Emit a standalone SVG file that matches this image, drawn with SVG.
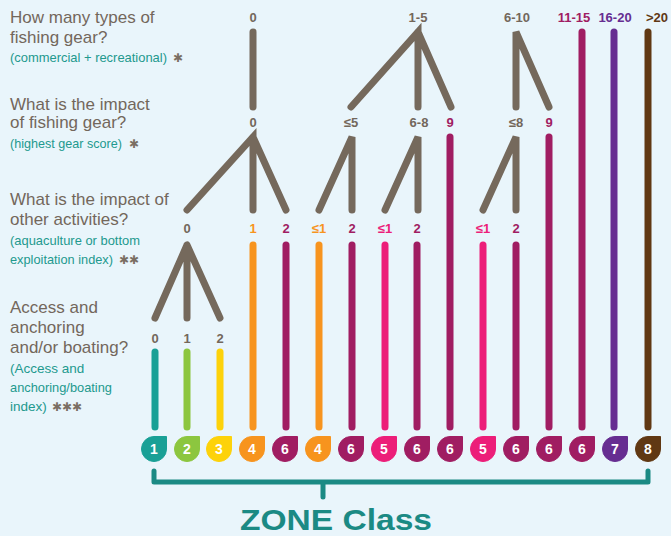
<svg xmlns="http://www.w3.org/2000/svg" width="671" height="536" viewBox="0 0 671 536">
<style>
.q{font-family:"Liberation Sans",Arial,sans-serif;font-size:17px;fill:#73675b}
.s{font-family:"Liberation Sans",Arial,sans-serif;font-size:13.5px;fill:#22998e}
.ast{font-family:"DejaVu Sans",sans-serif;font-size:12px;fill:#7a6e62;font-weight:bold}
.lb{font-family:"Liberation Sans",Arial,sans-serif;font-size:13px;font-weight:bold;text-anchor:middle;fill:#73675b}
.bn{font-family:"Liberation Sans",Arial,sans-serif;font-size:14px;font-weight:bold;text-anchor:middle;fill:#fff}
.t{stroke:#75695c;stroke-width:7;stroke-linecap:round;fill:none}
.b{stroke-width:7;stroke-linecap:round;fill:none}
.teal{stroke:#19a096;fill:#19a096}
.green{stroke:#8cc63f;fill:#8cc63f}
.yellow{stroke:#fdd20a;fill:#fdd20a}
.orange{stroke:#f7941e;fill:#f7941e}
.mag{stroke:#a01d62;fill:#a01d62}
.pink{stroke:#ec1e79;fill:#ec1e79}
.purple{stroke:#662d91;fill:#662d91}
.brown{stroke:#603813;fill:#603813}
.br{stroke:#1b8a84;stroke-width:5;stroke-linecap:round;stroke-linejoin:round;fill:none}
</style>
<defs>
<path id="drop" d="M-12.5,0 A12.5,12.5 0 0 1 0,-12.5 L12.5,-12.5 L12.5,0 A12.5,12.5 0 0 1 -12.5,0 Z"/>
</defs>
<rect width="671" height="536" fill="#e9f5fb"/>

<g id="questions">
<text class="q" x="10" y="23">How many types of</text>
<text class="q" x="10" y="43">fishing gear?</text>
<text class="s" x="10" y="62" textLength="157" lengthAdjust="spacingAndGlyphs">(commercial + recreational)</text>
<text class="ast" x="173" y="62">✱</text>
<text class="q" x="10" y="110">What is the impact</text>
<text class="q" x="10" y="128">of fishing gear?</text>
<text class="s" x="10" y="148" textLength="112" lengthAdjust="spacingAndGlyphs">(highest gear score)</text>
<text class="ast" x="129" y="148">✱</text>
<text class="q" x="10" y="205">What is the impact of</text>
<text class="q" x="10" y="225">other activities?</text>
<text class="s" x="10" y="245" textLength="130" lengthAdjust="spacingAndGlyphs">(aquaculture or bottom</text>
<text class="s" x="10" y="264" textLength="103" lengthAdjust="spacingAndGlyphs">exploitation index)</text>
<text class="ast" x="119" y="264">✱✱</text>
<text class="q" x="10" y="313">Access and</text>
<text class="q" x="10" y="333">anchoring</text>
<text class="q" x="10" y="353">and/or boating?</text>
<text class="s" x="10" y="373">(Access and</text>
<text class="s" x="10" y="392" textLength="102" lengthAdjust="spacingAndGlyphs">anchoring/boating</text>
<text class="s" x="10" y="411">index)</text>
<text class="ast" x="52" y="411">✱✱✱</text>
</g>

<g id="labels">
<text class="lb" x="253" y="22">0</text>
<text class="lb" x="418" y="22">1-5</text>
<text class="lb" x="517" y="22">6-10</text>
<text class="lb" x="574" y="22" style="fill:#a01d62">11-15</text>
<text class="lb" x="615" y="22" style="fill:#662d91">16-20</text>
<text class="lb" x="657" y="22" style="fill:#603813">&gt;20</text>
<text class="lb" x="253" y="127">0</text>
<text class="lb" x="351" y="127">≤5</text>
<text class="lb" x="419" y="127">6-8</text>
<text class="lb" x="450" y="127" style="fill:#a01d62">9</text>
<text class="lb" x="516" y="127">≤8</text>
<text class="lb" x="549" y="127" style="fill:#a01d62">9</text>
<text class="lb" x="187" y="233">0</text>
<text class="lb" x="253" y="233" style="fill:#f7941e">1</text>
<text class="lb" x="286" y="233" style="fill:#a01d62">2</text>
<text class="lb" x="319" y="233" style="fill:#f7941e">≤1</text>
<text class="lb" x="352" y="233" style="fill:#a01d62">2</text>
<text class="lb" x="385" y="233" style="fill:#ec1e79">≤1</text>
<text class="lb" x="417" y="233" style="fill:#a01d62">2</text>
<text class="lb" x="483" y="233" style="fill:#ec1e79">≤1</text>
<text class="lb" x="516" y="233" style="fill:#a01d62">2</text>
<text class="lb" x="155" y="343">0</text>
<text class="lb" x="187" y="343">1</text>
<text class="lb" x="220" y="343">2</text>
</g>

<g id="connectors">
<path class="t" d="M253,32 V107"/>
<path class="t" d="M351,107 L418,32 L418,107 M418,32 L451,107"/>
<path class="t" d="M516,107 L516,32 L549,107"/>
<path class="t" d="M187,210 L253,137 L253,210 M253,137 L286,210"/>
<path class="t" d="M319,210 L352,137 L352,210"/>
<path class="t" d="M385,210 L418,137 L418,210"/>
<path class="t" d="M483,210 L516,137 L516,210"/>
<path class="t" d="M155,318 L187,245 L187,318 M187,245 L220,318"/>
<path class="b teal" d="M155,352 V427"/>
<path class="b green" d="M187,352 V427"/>
<path class="b yellow" d="M220,352 V427"/>
<path class="b orange" d="M253,245 V427"/>
<path class="b mag" d="M286,245 V427"/>
<path class="b orange" d="M319,245 V427"/>
<path class="b mag" d="M352,245 V427"/>
<path class="b pink" d="M385,245 V427"/>
<path class="b mag" d="M417,245 V427"/>
<path class="b mag" d="M450,137 V427"/>
<path class="b pink" d="M483,245 V427"/>
<path class="b mag" d="M516,245 V427"/>
<path class="b mag" d="M549,137 V427"/>
<path class="b mag" d="M582,32 V427"/>
<path class="b purple" d="M614,32 V427"/>
<path class="b brown" d="M648,32 V427"/>
<path class="br" d="M154,471 V482 H648 V471 M323,482 V497"/>
</g>

<g id="badges">
<g id="z1"><use href="#drop" class="teal" x="154" y="449"/><text class="bn" x="154" y="454">1</text></g>
<g id="z2"><use href="#drop" class="green" x="187" y="449"/><text class="bn" x="187" y="454">2</text></g>
<g id="z3"><use href="#drop" class="yellow" x="219" y="449"/><text class="bn" x="219" y="454">3</text></g>
<g id="z4a"><use href="#drop" class="orange" x="252" y="449"/><text class="bn" x="252" y="454">4</text></g>
<g id="z6a"><use href="#drop" class="mag" x="285" y="449"/><text class="bn" x="285" y="454">6</text></g>
<g id="z4b"><use href="#drop" class="orange" x="318" y="449"/><text class="bn" x="318" y="454">4</text></g>
<g id="z6b"><use href="#drop" class="mag" x="351" y="449"/><text class="bn" x="351" y="454">6</text></g>
<g id="z5a"><use href="#drop" class="pink" x="384" y="449"/><text class="bn" x="384" y="454">5</text></g>
<g id="z6c"><use href="#drop" class="mag" x="417" y="449"/><text class="bn" x="417" y="454">6</text></g>
<g id="z6d"><use href="#drop" class="mag" x="450" y="449"/><text class="bn" x="450" y="454">6</text></g>
<g id="z5b"><use href="#drop" class="pink" x="483" y="449"/><text class="bn" x="483" y="454">5</text></g>
<g id="z6e"><use href="#drop" class="mag" x="516" y="449"/><text class="bn" x="516" y="454">6</text></g>
<g id="z6f"><use href="#drop" class="mag" x="549" y="449"/><text class="bn" x="549" y="454">6</text></g>
<g id="z6g"><use href="#drop" class="mag" x="582" y="449"/><text class="bn" x="582" y="454">6</text></g>
<g id="z7"><use href="#drop" class="purple" x="615" y="449"/><text class="bn" x="615" y="454">7</text></g>
<g id="z8"><use href="#drop" class="brown" x="648" y="449"/><text class="bn" x="648" y="454">8</text></g>
</g>

<g id="title">
<text x="240" y="530" textLength="192" lengthAdjust="spacingAndGlyphs" style="font-family:'Liberation Sans',Arial,sans-serif;font-size:30px;font-weight:bold;fill:#1b8a84">ZONE Class</text>
</g>
</svg>
